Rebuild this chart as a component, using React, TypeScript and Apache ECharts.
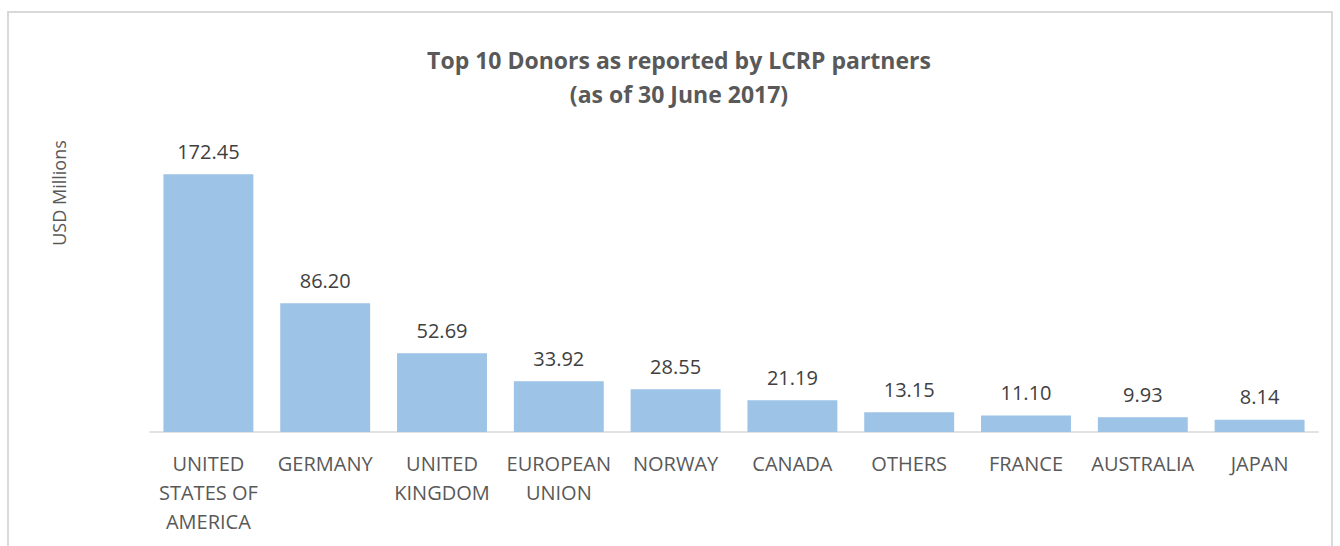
import React, { useEffect, useRef } from "react";
import * as echarts from "echarts";

const categories = [
  "UNITED\nSTATES OF\nAMERICA",
  "GERMANY",
  "UNITED\nKINGDOM",
  "EUROPEAN\nUNION",
  "NORWAY",
  "CANADA",
  "OTHERS",
  "FRANCE",
  "AUSTRALIA",
  "JAPAN",
];
const values = [172.45, 86.2, 52.69, 33.92, 28.55, 21.19, 13.15, 11.1, 9.93, 8.14];
const titleText = "Top 10 Donors as reported by LCRP partners\n(as of 30 June 2017)";
const yName = "USD Millions";

export default function App() {
  const ref = useRef<HTMLDivElement>(null);
  useEffect(() => {
    document.body.style.margin = "0";
    const chart = echarts.init(ref.current!, null, { renderer: "svg" });
    chart.setOption({
      animation: false,
      backgroundColor: "#ffffff",
      title: {
        text: titleText,
        left: 674,
        top: 38,
        textAlign: "center",
        textStyle: {
          fontFamily: "Open Sans",
          fontSize: 23,
          fontWeight: "bold",
          color: "#595959",
          lineHeight: 34,
        },
      },
      graphic: [
        {
          type: "rect",
          shape: { x: 8, y: 12, width: 1324, height: 600 },
          style: { fill: "none", stroke: "#d9d9d9", lineWidth: 2 },
          silent: true,
        },
        {
          type: "text",
          x: 59,
          y: 193,
          rotation: Math.PI / 2,
          style: {
            text: yName,
            fontFamily: "Open Sans",
            fontSize: 18,
            fill: "#595959",
            align: "center",
            verticalAlign: "middle",
          },
          silent: true,
        },
      ],
      grid: { left: 150, right: 22, top: 133, height: 299 },
      xAxis: {
        type: "category",
        data: categories,
        axisLine: { lineStyle: { color: "#d9d9d9", width: 1.5 } },
        axisTick: { show: false },
        axisLabel: {
          interval: 0,
          margin: 17,
          fontFamily: "Open Sans",
          fontSize: 20,
          lineHeight: 29,
          color: "#595959",
        },
      },
      yAxis: {
        type: "value",
        min: 0,
        max: 200,
        axisLine: { show: false },
        axisTick: { show: false },
        axisLabel: { show: false },
        splitLine: { show: false },
      },
      series: [
        {
          type: "bar",
          data: values,
          barCategoryGap: "23%",
          itemStyle: { color: "#9DC3E6" },
          label: {
            show: true,
            position: "top",
            distance: 13,
            formatter: (p: any) => p.value.toFixed(2),
            fontFamily: "Open Sans",
            fontSize: 20,
            color: "#404040",
          },
        },
      ],
    });
    return () => chart.dispose();
  }, []);
  return (
    <div
      ref={ref}
      style={{ position: "absolute", left: 0, top: 0, width: 1340, height: 546 }}
    />
  );
}
